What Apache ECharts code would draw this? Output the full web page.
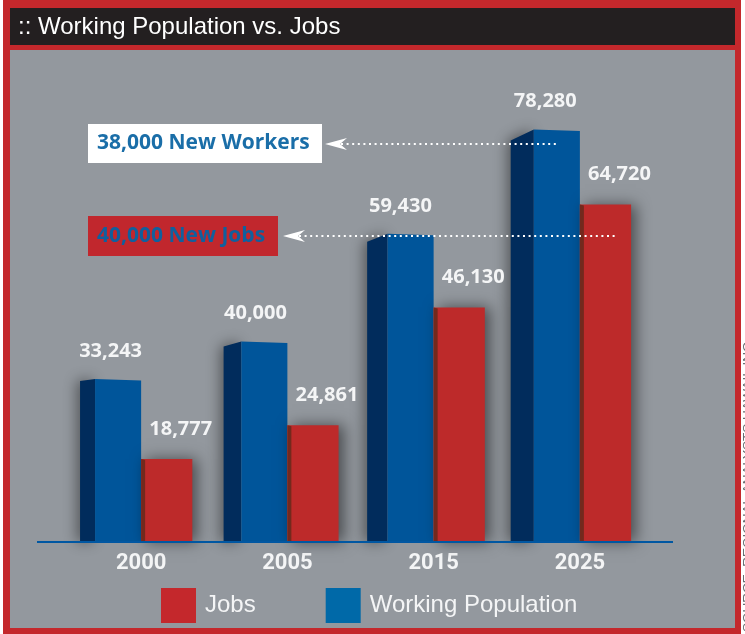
<!DOCTYPE html>
<html>
<head>
<meta charset="utf-8">
<script src="https://cdn.jsdelivr.net/npm/echarts@6/dist/echarts.min.js"></script>
<style>
  html, body { margin: 0; padding: 0; background: #ffffff; }
  #chart { width: 745px; height: 634px; }
</style>
</head>
<body>
<div id="chart"></div>
<script>
// Census years on the horizontal axis
const years = ['2000', '2005', '2015', '2025'];
// Working-age population per year
const workingPopulation = [33243, 40000, 59430, 78280];
// Jobs available per year
const jobs = [18777, 24861, 46130, 64720];
// Value-axis range (the axis is drawn without ticks)
const yMin = 3800;
const yMax = 89000;

const BG = '#93989e';
const RED_FRAME = '#c4282c';
const BLUE_FRONT = '#00559a';
const BLUE_SIDE = '#012c5c';
const RED_FRONT = '#bd2a2a';
const RED_SIDE = '#73291d';
const LABEL_FONT = 'bold 20px "Open Sans", "DejaVu Sans", sans-serif';

const fmt = v => v.toLocaleString('en-US');

// Blue column with a darker left-hand face for a 3D look
function renderPopulation(params, api) {
  const i = api.value(0);
  const v = api.value(1);
  const top = api.coord([i, v]);
  const band = api.size([1, 0])[0];
  const base = params.coordSys.y + params.coordSys.height;
  const frontW = band * 0.315;
  const right = top[0];
  const left = right - frontW;
  const sideW = 15 + i * 2.7;
  const drop = 2 + i * 3;
  const shadow = { shadowBlur: 14, shadowColor: 'rgba(0,0,0,0.45)', shadowOffsetX: -3 };
  return {
    type: 'group',
    children: [
      {
        type: 'polygon',
        shape: { points: [[left - sideW, top[1] + drop], [left, top[1]], [left, base], [left - sideW, base]] },
        style: Object.assign({ fill: BLUE_SIDE }, shadow)
      },
      {
        type: 'polygon',
        shape: { points: [[left, top[1]], [right, top[1] + 1.5], [right, base], [left, base]] },
        style: { fill: BLUE_FRONT }
      },
      {
        type: 'text',
        style: {
          text: fmt(v), x: (left - sideW + right) / 2, y: top[1] - 28,
          align: 'center', verticalAlign: 'middle', fill: '#f4f5f6', font: LABEL_FONT
        }
      }
    ]
  };
}

// Red column sitting just right of the blue one, with a thin dark edge
function renderJobs(params, api) {
  const i = api.value(0);
  const v = api.value(1);
  const top = api.coord([i, v]);
  const band = api.size([1, 0])[0];
  const base = params.coordSys.y + params.coordSys.height;
  const w = band * 0.35;
  const left = top[0];
  const right = left + w;
  return {
    type: 'group',
    children: [
      {
        type: 'rect',
        shape: { x: left, y: top[1], width: w, height: base - top[1] },
        style: { fill: RED_FRONT, shadowBlur: 14, shadowColor: 'rgba(0,0,0,0.5)', shadowOffsetX: 5 }
      },
      {
        type: 'polygon',
        shape: { points: [[left, top[1]], [left + 4, top[1] + 1], [left + 4, base], [left, base]] },
        style: { fill: RED_SIDE }
      },
      {
        type: 'text', z2: 20,
        style: {
          text: fmt(v), x: (left + right) / 2 + 14, y: top[1] - 30,
          align: 'center', verticalAlign: 'middle', fill: '#f4f5f6', font: LABEL_FONT
        }
      }
    ]
  };
}

// Dotted pointer ending in an arrowhead
function pointer(x1, x2, y) {
  return [
    {
      type: 'line', z: 5,
      shape: { x1: x1 + 16, y1: y, x2: x2, y2: y },
      style: { stroke: '#ffffff', lineWidth: 2.2, lineDash: [2, 3.6] }
    },
    {
      type: 'polygon', z: 5,
      shape: { points: [[x1, y], [x1 + 22, y - 6], [x1 + 15, y], [x1 + 22, y + 6]] },
      style: { fill: '#ffffff' }
    }
  ];
}

const chart = echarts.init(document.getElementById('chart'), null, { renderer: 'canvas' });

chart.setOption({
  animation: false,
  backgroundColor: '#ffffff',
  grid: { left: 68, width: 585, top: 70, bottom: 92 },
  xAxis: {
    type: 'category',
    data: years,
    axisLine: { show: false },
    axisTick: { show: false },
    axisLabel: {
      color: '#f4f5f6', fontSize: 22, fontWeight: 'bold',
      fontFamily: 'Roboto, "Liberation Sans", sans-serif',
      margin: 10
    }
  },
  yAxis: {
    type: 'value', min: yMin, max: yMax, show: false,
    splitLine: { show: false }
  },
  legend: {
    left: 161, top: 588, padding: 0,
    itemWidth: 35, itemHeight: 35, itemGap: 70,
    icon: 'rect',
    textStyle: {
      color: '#f4f5f6', fontSize: 24,
      fontFamily: '"Liberation Sans", Arial, sans-serif',
      padding: [0, 0, 0, 4]
    },
    data: [
      { name: 'Jobs', itemStyle: { color: '#c4282c' } },
      { name: 'Working Population', itemStyle: { color: '#0069a8' } }
    ]
  },
  graphic: [
    // frame, title bar and plot panel
    { type: 'rect', z: -10, shape: { x: 3, y: 0, width: 738, height: 634 }, style: { fill: RED_FRAME } },
    { type: 'rect', z: -9, shape: { x: 10, y: 8, width: 725, height: 37 }, style: { fill: '#231f20' } },
    { type: 'rect', z: -9, shape: { x: 10, y: 50, width: 725, height: 578 }, style: { fill: BG } },
    {
      type: 'text', z: 5, x: 18, y: 27,
      style: {
        text: ':: Working Population vs. Jobs', fill: '#ffffff', verticalAlign: 'middle',
        font: '24px "Liberation Sans", Arial, sans-serif'
      }
    },
    // baseline
    { type: 'line', z: 4, shape: { x1: 37, y1: 542, x2: 673, y2: 542 }, style: { stroke: '#0057a2', lineWidth: 2 } },
    // call-out boxes
    { type: 'rect', z: 5, shape: { x: 88, y: 124, width: 234, height: 39 }, style: { fill: '#ffffff' } },
    {
      type: 'text', z: 6, x: 97, y: 143.5,
      style: { text: '38,000 New Workers', fill: '#1a6ea8', verticalAlign: 'middle', font: 'bold 21px "Open Sans", "DejaVu Sans", sans-serif' }
    },
    { type: 'rect', z: 5, shape: { x: 88, y: 216, width: 190, height: 40 }, style: { fill: '#c1272d' } },
    {
      type: 'text', z: 6, x: 97, y: 236,
      style: { text: '40,000 New Jobs', fill: '#10609e', verticalAlign: 'middle', font: 'bold 21px "Open Sans", "DejaVu Sans", sans-serif' }
    },
    ...pointer(325, 558, 144),
    ...pointer(283, 618, 236),
    // source credit running up the right edge
    {
      type: 'text', z: 6, x: 748, y: 632, rotation: Math.PI / 2,
      style: {
        text: 'SOURCE: REGIONAL ANALYSTS HAWAII, INC.', fill: '#6b6e72',
        font: '13.5px "Liberation Sans", sans-serif', align: 'left', verticalAlign: 'middle'
      }
    }
  ],
  series: [
    {
      name: 'Working Population',
      type: 'custom',
      renderItem: renderPopulation,
      itemStyle: { color: '#0069a8' },
      data: years.map((y, i) => [i, workingPopulation[i]]),
      z: 2
    },
    {
      name: 'Jobs',
      type: 'custom',
      renderItem: renderJobs,
      itemStyle: { color: '#c4282c' },
      data: years.map((y, i) => [i, jobs[i]]),
      z: 3
    }
  ]
});
</script>
</body>
</html>
